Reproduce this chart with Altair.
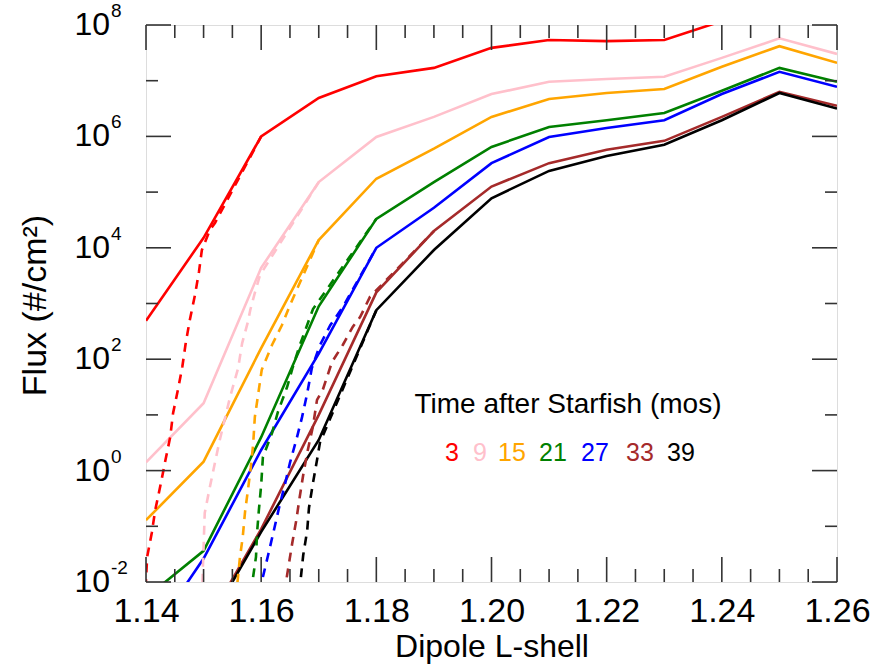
import altair as alt
import pandas as pd

FONT = "Liberation Sans, Arial, Helvetica, sans-serif"

# ---------------- data ----------------
L_NODES = [1.14, 1.15, 1.16, 1.17, 1.18, 1.19, 1.20, 1.21, 1.22, 1.23, 1.24, 1.25, 1.26]
SERIES = ["3", "9", "15", "21", "27", "33", "39"]
COLORS = ["#ff0000", "#ffc0cb", "#ffa500", "#008000", "#0000ff", "#a52a2a", "#000000"]

# log10 flux of the solid curves at the L nodes
LOG_3 = [2.69, 4.18, 6.00, 6.69, 7.08, 7.23, 7.59, 7.73, 7.71, 7.73, 8.07, 8.35, 8.20]
LOG_9 = [0.15, 1.21, 3.64, 5.18, 5.99, 6.35, 6.76, 6.98, 7.03, 7.07, 7.41, 7.76, 7.48]
LOG_15 = [-0.89, 0.16, 2.20, 4.14, 5.24, 5.78, 6.35, 6.67, 6.78, 6.85, 7.25, 7.62, 7.32]
LOG_21 = [-2.28, -1.44, 0.60, 2.95, 4.52, 5.18, 5.81, 6.17, 6.29, 6.42, 6.82, 7.23, 6.98]
LOG_27 = [-3.10, -1.58, 0.37, 2.10, 4.00, 4.72, 5.52, 5.99, 6.15, 6.29, 6.76, 7.16, 6.89]
LOG_33 = [-4.80, -2.85, -1.05, 1.00, 3.20, 4.30, 5.10, 5.52, 5.76, 5.92, 6.35, 6.80, 6.55]
LOG_39 = [-5.00, -2.90, -1.10, 0.55, 2.88, 3.96, 4.89, 5.38, 5.65, 5.85, 6.29, 6.78, 6.50]
SOLID_LOGS = [LOG_3, LOG_9, LOG_15, LOG_21, LOG_27, LOG_33, LOG_39]

# dashed curves (L, log10 flux)
DASH_3_L = [1.1398, 1.1402, 1.1410, 1.1416, 1.1426, 1.1433, 1.1442, 1.1447, 1.1456, 1.1463,
            1.1469, 1.1476, 1.1485, 1.1492, 1.1497, 1.1511, 1.1520, 1.1600]
DASH_3_LOG = [-2.40, -1.55, -1.12, -0.71, -0.22, 0.15, 0.60, 1.03, 1.48, 1.86,
              2.29, 2.70, 3.15, 3.57, 3.96, 4.32, 4.45, 6.00]
DASH_9_L = [1.1497, 1.1502, 1.1511, 1.1527, 1.1546, 1.1560, 1.1567, 1.1577, 1.1581, 1.1589,
            1.1598, 1.1700]
DASH_9_LOG = [-2.30, -0.76, -0.29, 0.50, 1.32, 1.84, 2.29, 2.67, 2.88, 3.19, 3.51, 5.18]
DASH_15_L = [1.1556, 1.1563, 1.1568, 1.1572, 1.1577, 1.1582, 1.1586, 1.1589, 1.1601, 1.1619,
             1.1636, 1.1650, 1.1700]
DASH_15_LOG = [-2.30, -1.57, -1.19, -0.74, -0.35, 0.06, 0.46, 0.96, 1.81, 2.26, 2.61, 2.97, 4.14]
DASH_21_L = [1.1583, 1.1586, 1.1591, 1.1593, 1.1596, 1.1600, 1.1603, 1.1619, 1.1629, 1.1645,
             1.1655, 1.1667, 1.1690, 1.1800]
DASH_21_LOG = [-2.20, -1.91, -1.55, -1.10, -0.71, -0.26, 0.24, 0.68, 1.05, 1.50,
               1.86, 2.25, 2.90, 4.52]
DASH_27_L = [1.1600, 1.1603, 1.1612, 1.1621, 1.1631, 1.1641, 1.1650, 1.1662, 1.1671, 1.1680,
             1.1688, 1.1702, 1.1720, 1.1742, 1.1800]
DASH_27_LOG = [-2.20, -1.91, -1.52, -1.12, -0.67, -0.26, 0.14, 0.59, 0.96, 1.39,
               1.84, 2.25, 2.61, 2.94, 4.00]
DASH_33_L = [1.1640, 1.1647, 1.1654, 1.1661, 1.1667, 1.1673, 1.1680, 1.1690, 1.1697, 1.1707,
             1.1723, 1.1742, 1.1759, 1.1772, 1.1789, 1.1900]
DASH_33_LOG = [-2.20, -1.75, -1.30, -0.89, -0.47, -0.08, 0.32, 0.80, 1.27, 1.45,
               1.95, 2.26, 2.58, 2.76, 3.12, 4.30]
DASH_39_L = [1.1666, 1.1669, 1.1673, 1.1680, 1.1683, 1.1690, 1.1697, 1.1702, 1.1800]
DASH_39_LOG = [-2.20, -1.91, -1.52, -1.07, -0.67, -0.22, 0.19, 0.50, 2.88]
DASH_LS = [DASH_3_L, DASH_9_L, DASH_15_L, DASH_21_L, DASH_27_L, DASH_33_L, DASH_39_L]
DASH_LOGS = [DASH_3_LOG, DASH_9_LOG, DASH_15_LOG, DASH_21_LOG, DASH_27_LOG, DASH_33_LOG, DASH_39_LOG]

X_MAJOR = [1.14, 1.16, 1.18, 1.20, 1.22, 1.24, 1.26]
X_MINOR = [1.145, 1.15, 1.155, 1.165, 1.17, 1.175, 1.185, 1.19, 1.195, 1.205, 1.21, 1.215,
           1.225, 1.23, 1.235, 1.245, 1.25, 1.255]
Y_MAJOR_EXP = [-2, 0, 2, 4, 6, 8]
Y_MINOR_EXP = [-1, 1, 3, 5, 7]
Y_LABEL_EXP = ["-2", "0", "2", "4", "6", "8"]

LEGEND_TITLE = "Time after Starfish (mos)"

# ---------------- tables ----------------
rows = []
for s, logs in zip(SERIES, SOLID_LOGS):
    for L, lg in zip(L_NODES, logs):
        rows.append({"series": s, "L": L, "flux": 10.0 ** lg})
solid_df = pd.DataFrame(rows)

rows = []
for s, Ls, logs in zip(SERIES, DASH_LS, DASH_LOGS):
    for L, lg in zip(Ls, logs):
        rows.append({"series": s, "L": L, "flux": 10.0 ** lg})
dash_df = pd.DataFrame(rows)

xmaj_df = pd.DataFrame({"v": X_MAJOR})
xmin_df = pd.DataFrame({"v": X_MINOR})
ymaj_df = pd.DataFrame({"v": [10.0 ** e for e in Y_MAJOR_EXP]})
ymin_df = pd.DataFrame({"v": [10.0 ** e for e in Y_MINOR_EXP]})
ylab_df = pd.DataFrame({"v": [10.0 ** e for e in Y_MAJOR_EXP], "e": Y_LABEL_EXP})

# ---------------- scales / axes ----------------
W, H = 691, 557
xscale = alt.Scale(domain=[1.14, 1.26], nice=False, zero=False)
yscale = alt.Scale(type="log", domain=[1e-2, 1e8], nice=False)
cscale = alt.Scale(domain=SERIES, range=COLORS)

xaxis = alt.Axis(values=X_MAJOR, format=".2f", labelFontSize=34, labelFont=FONT,
                 labelColor="black", labelPadding=12, labelFlush=False, labelOverlap=False,
                 ticks=False, domain=False, grid=False,
                 title="Dipole L-shell", titleFont=FONT, titleFontSize=32,
                 titleFontWeight="normal", titleColor="black", titleY=64,
                 titleBaseline="middle")
yaxis = alt.Axis(labels=False, ticks=False, domain=False, grid=False,
                 title="Flux (#/cm²)", titleFont=FONT, titleFontSize=34,
                 titleFontWeight="normal", titleColor="black", titleX=-111, titleY=280,
                 titleAngle=270, titleAlign="center", titleBaseline="middle")

X = lambda f: alt.X(f, scale=xscale, axis=xaxis)
Y = lambda f: alt.Y(f, scale=yscale, axis=yaxis)

solid = alt.Chart(solid_df).mark_line(strokeWidth=2.6, clip=True).encode(
    x=X("L:Q"), y=Y("flux:Q"),
    color=alt.Color("series:N", scale=cscale, legend=None),
    detail="series:N",
)
dashed = alt.Chart(dash_df).mark_line(strokeWidth=2.6, strokeDash=[9, 7], clip=True).encode(
    x=X("L:Q"), y=Y("flux:Q"),
    color=alt.Color("series:N", scale=cscale, legend=None),
    detail="series:N",
)

TICK_COLOR = "#333333"
tick_layers = []
for df, ln in [(xmaj_df, 25), (xmin_df, 13)]:
    tick_layers.append(alt.Chart(df).mark_rule(color=TICK_COLOR, strokeWidth=1.6).encode(
        x=X("v:Q"), y=alt.value(H), y2=alt.value(H - ln)))
    tick_layers.append(alt.Chart(df).mark_rule(color=TICK_COLOR, strokeWidth=1.6).encode(
        x=X("v:Q"), y=alt.value(0), y2=alt.value(ln)))
for df, ln in [(ymaj_df, 25), (ymin_df, 12)]:
    tick_layers.append(alt.Chart(df).mark_rule(color=TICK_COLOR, strokeWidth=1.6).encode(
        y=Y("v:Q"), x=alt.value(0), x2=alt.value(ln)))
    tick_layers.append(alt.Chart(df).mark_rule(color=TICK_COLOR, strokeWidth=1.6).encode(
        y=Y("v:Q"), x=alt.value(W), x2=alt.value(W - ln)))

ylab_base = alt.Chart(ylab_df).mark_text(align="right", baseline="middle", font=FONT,
                                         fontSize=32, color="black").encode(
    y=Y("v:Q"), x=alt.value(-36), text=alt.value("10"))
ylab_exp = alt.Chart(ylab_df).mark_text(align="left", baseline="middle", font=FONT,
                                        fontSize=19, dy=-14, color="black").encode(
    y=Y("v:Q"), x=alt.value(-35), text="e:N")

# legend annotation
leg_title = alt.Chart(pd.DataFrame({"t": [LEGEND_TITLE]})).mark_text(
    align="center", baseline="middle", font=FONT, fontSize=28, color="black").encode(
    x=alt.value(422), y=alt.value(380), text="t:N")
LEG_X = [306, 334, 366, 407, 449, 494, 535]
leg_nums = []
for s, c, px in zip(SERIES, COLORS, LEG_X):
    leg_nums.append(alt.Chart(pd.DataFrame({"t": [s]})).mark_text(
        align="center", baseline="middle", font=FONT, fontSize=25, color=c).encode(
        x=alt.value(px), y=alt.value(428), text="t:N"))

chart = alt.layer(solid, dashed, *tick_layers, ylab_base, ylab_exp, leg_title, *leg_nums).properties(
    width=W, height=H,
    autosize=alt.AutoSizeParams(type="none"),
    padding={"left": 146, "top": 25, "right": 40, "bottom": 82},
).configure_view(stroke="#555555", strokeWidth=1.6).configure(background="white")

chart.save("out.html", embed_options={"renderer": "svg", "actions": False})
